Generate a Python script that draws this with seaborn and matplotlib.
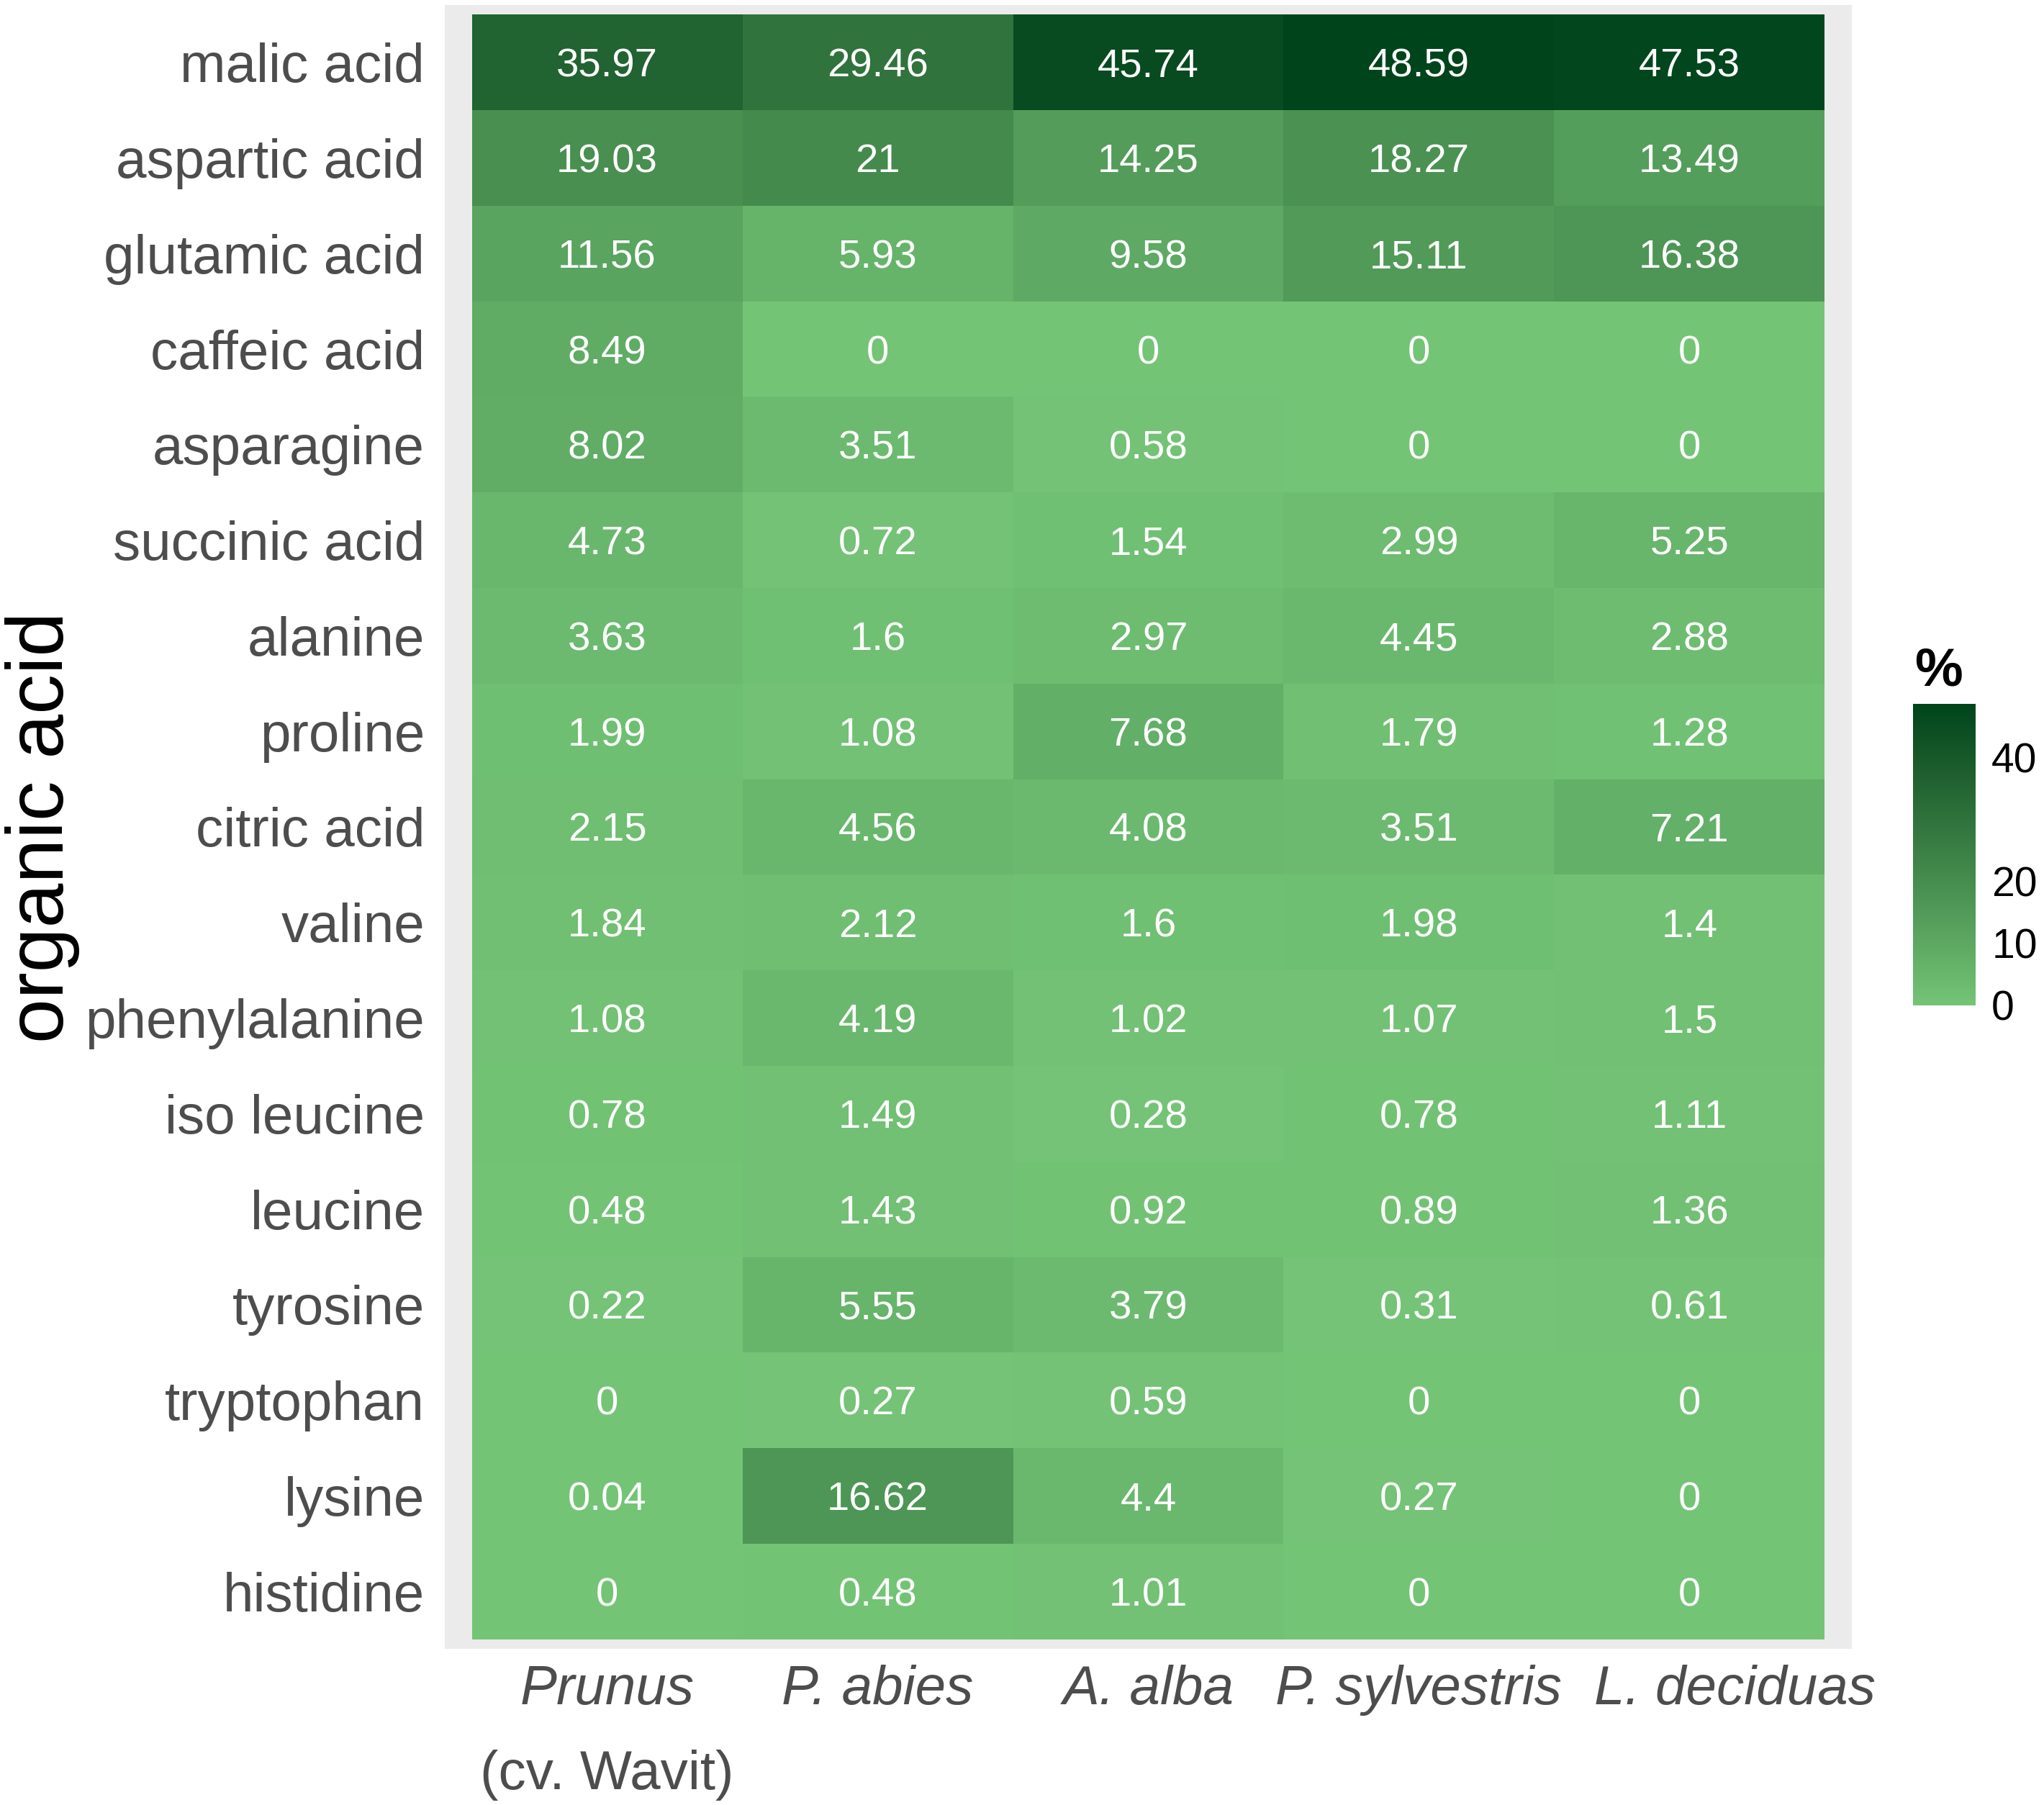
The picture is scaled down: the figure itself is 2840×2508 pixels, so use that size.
import numpy as np
import pandas as pd
import matplotlib
matplotlib.use("Agg")
import matplotlib.pyplot as plt
import matplotlib.transforms as mtransforms
from matplotlib.colors import ListedColormap
import seaborn as sns

# ---------------- data ----------------
acids = ["malic acid", "aspartic acid", "glutamic acid", "caffeic acid", "asparagine",
         "succinic acid", "alanine", "proline", "citric acid", "valine", "phenylalanine",
         "iso leucine", "leucine", "tyrosine", "tryptophan", "lysine", "histidine"]
species = ["Prunus", "P. abies", "A. alba", "P. sylvestris", "L. deciduas"]
prunus = [35.97, 19.03, 11.56, 8.49, 8.02, 4.73, 3.63, 1.99, 2.15, 1.84, 1.08, 0.78, 0.48, 0.22, 0, 0.04, 0]
p_abies = [29.46, 21, 5.93, 0, 3.51, 0.72, 1.6, 1.08, 4.56, 2.12, 4.19, 1.49, 1.43, 5.55, 0.27, 16.62, 0.48]
a_alba = [45.74, 14.25, 9.58, 0, 0.58, 1.54, 2.97, 7.68, 4.08, 1.6, 1.02, 0.28, 0.92, 3.79, 0.59, 4.4, 1.01]
p_sylvestris = [48.59, 18.27, 15.11, 0, 0, 2.99, 4.45, 1.79, 3.51, 1.98, 1.07, 0.78, 0.89, 0.31, 0, 0.27, 0]
l_deciduas = [47.53, 13.49, 16.38, 0, 0, 5.25, 2.88, 1.28, 7.21, 1.4, 1.5, 1.11, 1.36, 0.61, 0, 0, 0]
cbar_ticks = [0, 5, 10, 20, 40]
cbar_labels = ["0", "", "10", "20", "40"]

df = pd.DataFrame({species[0]: prunus, species[1]: p_abies, species[2]: a_alba,
                   species[3]: p_sylvestris, species[4]: l_deciduas}, index=acids)
annot = df.apply(lambda col: col.map(lambda v: f"{v:g}"))

# ---------------- colormap (Lab interpolation, like ggplot) ----------------
def hex2rgb(h):
    h = h.lstrip("#")
    return np.array([int(h[i:i + 2], 16) / 255 for i in (0, 2, 4)])

def srgb2lin(c):
    return np.where(c <= 0.04045, c / 12.92, ((c + 0.055) / 1.055) ** 2.4)

def lin2srgb(c):
    c = np.clip(c, 0, 1)
    return np.where(c <= 0.0031308, 12.92 * c, 1.055 * c ** (1 / 2.4) - 0.055)

M = np.array([[0.4124, 0.3576, 0.1805], [0.2126, 0.7152, 0.0722], [0.0193, 0.1192, 0.9505]])
Minv = np.linalg.inv(M)
wp = np.array([0.95047, 1.0, 1.08883])

def rgb2lab(c):
    xyz = M @ srgb2lin(c) / wp
    f = np.where(xyz > 0.008856, np.cbrt(xyz), 7.787 * xyz + 16 / 116)
    return np.array([116 * f[1] - 16, 500 * (f[0] - f[1]), 200 * (f[1] - f[2])])

def lab2rgb(lab):
    fy = (lab[0] + 16) / 116
    fx = fy + lab[1] / 500
    fz = fy - lab[2] / 200
    f = np.array([fx, fy, fz])
    xyz = np.where(f ** 3 > 0.008856, f ** 3, (f - 16 / 116) / 7.787) * wp
    return lin2srgb(Minv @ xyz)

low, high = rgb2lab(hex2rgb("#74c476")), rgb2lab(hex2rgb("#00441b"))
cols = [lab2rgb(low + t * (high - low)) for t in np.linspace(0, 1, 256)]
cmap = ListedColormap(cols)

# ---------------- figure ----------------
sns.set_style("white")
plt.rcParams["font.family"] = ["Liberation Sans", "DejaVu Sans"]

W, H, DPI = 2840, 2508, 200
fig = plt.figure(figsize=(W / DPI, H / DPI), dpi=DPI)
ax = fig.add_axes([618 / W, 1 - 2291 / H, (2573 - 618) / W, (2291 - 7) / H])
cax = fig.add_axes([2658 / W, 1 - 1397 / H, 87 / W, 419 / H])

sns.heatmap(df, ax=ax, cmap=cmap, vmin=0, vmax=max(map(max, [prunus, p_abies, a_alba, p_sylvestris, l_deciduas])),
            annot=annot, fmt="", annot_kws={"color": "white", "fontsize": 20.3, "va": "center_baseline"},
            cbar_ax=cax, cbar_kws={"ticks": cbar_ticks}, linewidths=0)

ax.set_facecolor("#EBEBEB")
ax.set_xlim(-0.1, 5.1)
ax.set_ylim(17.1, -0.1)
for s in ax.spines.values():
    s.set_visible(False)
ax.set_xlabel("")
ax.set_ylabel("")
ax.tick_params(axis="both", length=0)
ax.tick_params(axis="y", pad=10, labelsize=27.5, labelcolor="#4D4D4D", rotation=0)
ax.tick_params(axis="x", pad=8, labelsize=27.5, labelcolor="#4D4D4D", rotation=0)
xtl = ax.get_xticklabels()
for t in xtl:
    t.set_fontstyle("italic")
# last label sits shifted to the right in the original
xtl[-1].set_transform(xtl[-1].get_transform() +
                      mtransforms.ScaledTranslation(63 / DPI, 0, fig.dpi_scale_trans))
for t in ax.get_yticklabels():
    t.set_rotation(0)
    t.set_ha("right")
    t.set_va("center_baseline")

trans = mtransforms.blended_transform_factory(ax.transData, fig.transFigure)
ax.text(0.5, 1 - 2486 / H, "(cv. Wavit)", transform=trans, ha="center", va="baseline",
        fontsize=27.5, color="#4D4D4D")

fig.text(59 / W, 1 - 1149 / H, "organic acid", rotation=90, ha="center", va="center",
         fontsize=40, color="black")

# colorbar styling
cbar = ax.collections[0].colorbar
cbar.outline.set_visible(False)
cbar.set_ticks(cbar_ticks)
cbar.set_ticklabels(cbar_labels)
cax.yaxis.set_ticks_position("both")
cax.tick_params(axis="y", direction="in", length=6, width=1, color="white",
                labelsize=20.5, labelcolor="black", pad=8, labelleft=False, labelright=True)
fig.text(2660 / W, 1 - 953 / H, "%", ha="left", va="baseline", fontsize=27,
         fontweight="bold", color="black")

fig.savefig("out.png", dpi=DPI)
